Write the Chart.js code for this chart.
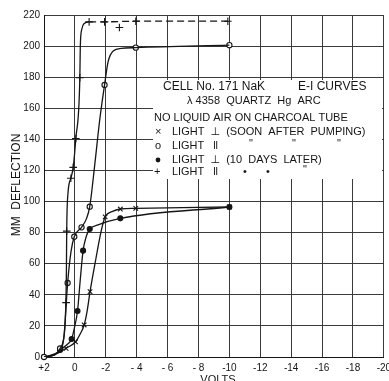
<!DOCTYPE html>
<html>
<head>
<meta charset="utf-8">
<script src="https://cdn.jsdelivr.net/npm/chart.js@4/dist/chart.umd.min.js"></script>
<style>
  body { margin: 0; background: #fff; overflow: hidden; }
  canvas { display: block; }
</style>
</head>
<body>
<canvas id="eiChart" width="389" height="381"></canvas>
<script>
// Tick values and labels (volts run from +2 on the left to -20 on the right)
const xTicks = [2, 0, -2, -4, -6, -8, -10, -12, -14, -16, -18, -20];
const xTickLabels = ['+2', '0', '-2', '- 4', '- 6', '- 8', '-10', '-12', '-14', '-16', '-18', '-20'];
const yTicks = [0, 20, 40, 60, 80, 100, 120, 140, 160, 180, 200, 220];

// x  LIGHT perpendicular (soon after pumping) - curve trace and marked readings
const perpSoonV = [2, 1.3, 0.57, -0.04, -0.35, -0.6, -0.8, -0.98, -1.3, -1.7, -1.96, -2.4, -2.94, -3.94, -10];
const perpSoonY = [0, 1.5, 5.6, 9.8, 15, 20.6, 30, 42, 60, 81, 90.2, 93.5, 95.2, 95.6, 96.5];
const perpSoonMarkV = [0.57, -0.04, -0.6, -0.98, -1.96, -2.94, -3.94, -10];
const perpSoonMarkY = [5.6, 9.8, 20.6, 42, 90.2, 95.2, 95.6, 96.5];

// o  LIGHT parallel (soon after pumping)
const parSoonV = [2, 1.3, 0.96, 0.7, 0.47, 0.25, 0.04, -0.43, -0.75, -0.96, -1.3, -1.6, -1.92, -2.15, -2.5, -3, -3.94, -10];
const parSoonY = [0, 1.5, 5.5, 14, 47.6, 68, 77.4, 83.4, 89, 96.7, 125, 152, 175, 190, 197, 198.5, 199, 200.6];
const parSoonMarkV = [2, 0.96, 0.47, 0.04, -0.43, -0.96, -1.92, -3.94, -10];
const parSoonMarkY = [0, 5.5, 47.6, 77.4, 83.4, 96.7, 175, 199, 200.6];

// filled dot  LIGHT perpendicular (10 days later)
const perpLaterV = [2, 1.3, 0.96, 0.5, 0.21, 0.05, -0.17, -0.35, -0.53, -0.75, -0.96, -1.5, -2.94, -10];
const perpLaterY = [0, 1.5, 4.5, 8, 11.6, 18, 29.6, 50, 68.4, 78, 82.3, 85, 89.2, 96.5];
const perpLaterMarkV = [0.96, 0.21, -0.17, -0.53, -0.96, -2.94, -10];
const perpLaterMarkY = [4.5, 11.6, 29.6, 68.4, 82.3, 89.2, 96.5];

// +  LIGHT parallel (10 days later)
const parLaterV = [2, 1.3, 1.0, 0.75, 0.6, 0.55, 0.53, 0.45, 0.26, 0.11, -0.06, -0.32, -0.35, -0.45, -0.6, -0.92, -1.92, -3.94, -9.9];
const parLaterY = [0, 2, 4, 10, 30, 55, 81, 105, 115, 122, 140.6, 179.6, 200, 211, 214.5, 215.6, 215.6, 216, 216];
const parLaterMarkV = [0.57, 0.53, 0.26, 0.11, -0.06, -0.32, -0.92, -1.92, -2.88, -3.94, -9.9];
const parLaterMarkY = [35, 81, 115, 122, 140.6, 179.6, 215.6, 215.6, 212, 216, 216];

function toPoints(xs, ys) {
    return xs.map(function (x, i) { return { x: x, y: ys[i] }; });
}

const INK = '#151515';
const TEXT_FONT = '"Liberation Sans", "DejaVu Sans", sans-serif';

function trace(xs, ys, extra) {
    return Object.assign({
        data: toPoints(xs, ys),
        borderColor: INK,
        borderWidth: 1.3,
        pointRadius: 0,
        cubicInterpolationMode: 'monotone',
        fill: false
    }, extra || {});
}

function marks(xs, ys, style, radius, fillColor) {
    return {
        data: toPoints(xs, ys),
        showLine: false,
        pointStyle: style,
        pointRadius: radius,
        pointBorderColor: INK,
        pointBackgroundColor: fillColor,
        pointBorderWidth: 1.1,
        clip: false
    };
}

// White label panel and the hand-lettered notes inside it
const notesPlugin = {
    id: 'notes',
    beforeDatasetsDraw(chart) {
        const ctx = chart.ctx;
        ctx.save();
        ctx.fillStyle = '#fff';
        ctx.fillRect(153, 80, 229, 99);

        ctx.fillStyle = INK;
        ctx.textBaseline = 'middle';
        ctx.textAlign = 'left';

        ctx.font = '12px ' + TEXT_FONT;
        ctx.fillText('CELL No. 171 NaK', 163, 87, 124);
        ctx.fillText('E-I CURVES', 298, 87, 82);

        ctx.font = '11px ' + TEXT_FONT;
        ctx.fillText('\u03BB 4358  QUARTZ  Hg  ARC', 187, 101, 140);
        ctx.fillText('NO LIQUID AIR ON CHARCOAL TUBE', 154, 118, 196);

        // legend rows
        ctx.fillText('\u00D7', 155, 132);
        ctx.fillText('LIGHT  \u22A5  (SOON  AFTER  PUMPING)', 172, 132, 195);

        ctx.fillText('o', 155, 146);
        ctx.fillText('LIGHT   ll', 172, 146, 46);
        ctx.fillText('"', 249, 144);
        ctx.fillText('"', 292, 144);
        ctx.fillText('"', 337, 144);

        ctx.beginPath();
        ctx.arc(158, 160, 2.4, 0, Math.PI * 2);
        ctx.fill();
        ctx.fillText('LIGHT  \u22A5  (10  DAYS  LATER)', 172, 160, 153);

        ctx.fillText('+', 154, 172);
        ctx.fillText('LIGHT   ll', 172, 172, 46);
        ctx.fillText('\u2022', 243, 172);
        ctx.fillText('\u2022', 266, 172);
        ctx.fillText('"', 303, 170);
        ctx.restore();
    },
    afterDraw(chart) {
        const ctx = chart.ctx;
        ctx.save();
        ctx.fillStyle = INK;
        ctx.font = '12px ' + TEXT_FONT;
        ctx.textAlign = 'center';
        ctx.textBaseline = 'middle';
        ctx.translate(17, 185);
        ctx.rotate(-Math.PI / 2);
        ctx.fillText('MM  DEFLECTION', 0, 0, 110);
        ctx.restore();

        ctx.save();
        ctx.fillStyle = INK;
        ctx.font = '11px ' + TEXT_FONT;
        ctx.textAlign = 'center';
        ctx.textBaseline = 'top';
        ctx.fillText('VOLTS', 218, 374);
        ctx.restore();
    }
};

new Chart(document.getElementById('eiChart'), {
    type: 'line',
    data: {
        datasets: [
            trace(perpSoonV, perpSoonY),
            trace(parSoonV, parSoonY),
            trace(perpLaterV, perpLaterY),
            trace(parLaterV, parLaterY, {
                segment: {
                    borderDash: function (c) { return c.p0.parsed.x <= -0.9 ? [7, 4] : undefined; }
                }
            }),
            marks(perpSoonMarkV, perpSoonMarkY, 'crossRot', 3.2, INK),
            marks(parSoonMarkV, parSoonMarkY, 'circle', 2.6, '#fff'),
            marks(perpLaterMarkV, perpLaterMarkY, 'circle', 2.5, INK),
            marks(parLaterMarkV, parLaterMarkY, 'cross', 3.8, INK)
        ]
    },
    options: {
        responsive: false,
        animation: false,
        devicePixelRatio: 1,
        layout: { padding: { left: 0, right: 1, top: 15, bottom: 0 } },
        plugins: {
            legend: { display: false },
            tooltip: { enabled: false }
        },
        scales: {
            x: {
                type: 'linear',
                min: -20,
                max: 2,
                reverse: true,
                grid: { color: '#3a3a3a', lineWidth: 1, drawTicks: false },
                border: { color: INK, width: 1 },
                ticks: {
                    stepSize: 2,
                    padding: 5,
                    maxRotation: 0,
                    autoSkip: false,
                    color: INK,
                    font: { family: TEXT_FONT, size: 10 },
                    callback: function (v) {
                        const i = xTicks.indexOf(v);
                        return i < 0 ? '' : xTickLabels[i];
                    }
                },
                afterFit: function (s) {
                    s.height = 24;
                    s.paddingLeft = 0;
                    s.paddingRight = 0;
                }
            },
            y: {
                min: 0,
                max: 220,
                grid: { color: '#3a3a3a', lineWidth: 1, drawTicks: false },
                border: { color: INK, width: 1 },
                ticks: {
                    stepSize: 20,
                    padding: 4,
                    color: INK,
                    font: { family: TEXT_FONT, size: 10 },
                    callback: function (v) { return yTicks.indexOf(v) < 0 ? '' : String(v); }
                },
                afterFit: function (s) {
                    s.width = 44;
                    s.paddingTop = 0;
                    s.paddingBottom = 0;
                }
            }
        }
    },
    plugins: [notesPlugin]
});
</script>
</body>
</html>
